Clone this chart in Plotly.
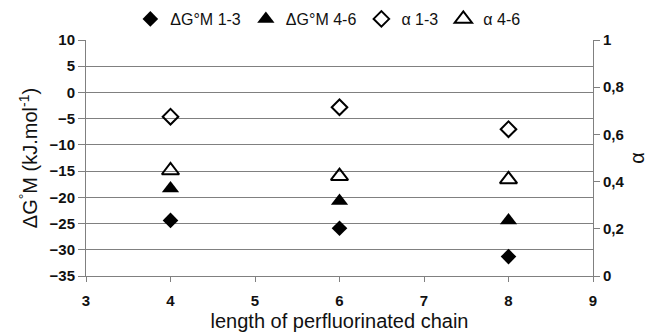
import plotly.graph_objects as go

# Data
chain_length = [4, 6, 8]
dg_1_3 = [-24.4, -25.9, -31.3]
dg_4_6 = [-18.3, -20.7, -24.4]
alpha_1_3 = [0.675, 0.715, 0.622]
alpha_4_6 = [0.447, 0.423, 0.409]

series_names = ["ΔG°M 1-3", "ΔG°M 4-6", "α 1-3", "α 4-6"]
right_tick_vals = [0, 0.2, 0.4, 0.6, 0.8, 1]
right_tick_text = ["0", "0,2", "0,4", "0,6", "0,8", "1"]

FONT = "Liberation Sans, Arial, sans-serif"
AX = "#808080"
TICKFONT = dict(family=FONT, size=15, color="#111", weight="bold")

fig = go.Figure()
fig.add_trace(go.Scatter(x=chain_length, y=dg_1_3, mode="markers", name=series_names[0],
                         marker=dict(symbol="diamond", size=12, color="black")))
fig.add_trace(go.Scatter(x=chain_length, y=dg_4_6, mode="markers", name=series_names[1],
                         marker=dict(symbol="triangle-up", size=15, color="black")))
fig.add_trace(go.Scatter(x=chain_length, y=alpha_1_3, mode="markers", name=series_names[2], yaxis="y2",
                         marker=dict(symbol="diamond-open", size=12, color="black", line=dict(width=2))))
fig.add_trace(go.Scatter(x=chain_length, y=alpha_4_6, mode="markers", name=series_names[3], yaxis="y2",
                         marker=dict(symbol="triangle-up-open", size=15, color="black", line=dict(width=2))))

fig.update_layout(
    width=654, height=335,
    margin=dict(l=86, r=61, t=40, b=59, autoexpand=False),
    paper_bgcolor="white", plot_bgcolor="white",
    font=dict(family=FONT, size=15, color="black"),
    showlegend=True,
    legend=dict(orientation="h", x=0.477, xanchor="center", y=1.089, yanchor="middle",
                font=dict(size=16, color="#111"), itemwidth=30, tracegroupgap=0,
                bgcolor="rgba(0,0,0,0)"),
    xaxis=dict(range=[3, 9], dtick=1, tick0=3, showgrid=False, showline=True, linecolor=AX,
               linewidth=1, ticks="outside", ticklen=5, tickcolor=AX, zeroline=False,
               tickfont=TICKFONT, automargin=False, ticklabelstandoff=6,
               title=dict(text="length of perfluorinated chain", font=dict(size=20, color="#111"), standoff=5)),
    yaxis=dict(range=[-35, 10], dtick=5, tick0=-35, showgrid=True, gridcolor=AX, gridwidth=1,
               showline=True, linecolor=AX, linewidth=1, ticks="outside", ticklen=7, tickcolor=AX,
               zeroline=False, tickfont=TICKFONT, automargin=False,
               title=dict(text="ΔG<sup>°</sup>M (kJ.mol<sup>-1</sup>)", font=dict(size=20, color="#111"), standoff=6)),
    yaxis2=dict(range=[0, 1], overlaying="y", side="right", tickvals=right_tick_vals,
                ticktext=right_tick_text, showgrid=False, showline=True, linecolor=AX, linewidth=1,
                ticks="outside", ticklen=6, tickcolor=AX, zeroline=False, tickfont=TICKFONT,
                automargin=False,
                title=dict(text="α", font=dict(size=20, color="#111"), standoff=6)),
)

fig.write_html("out.html", config={"displayModeBar": False},
               post_script="document.body.style.margin='0';")
